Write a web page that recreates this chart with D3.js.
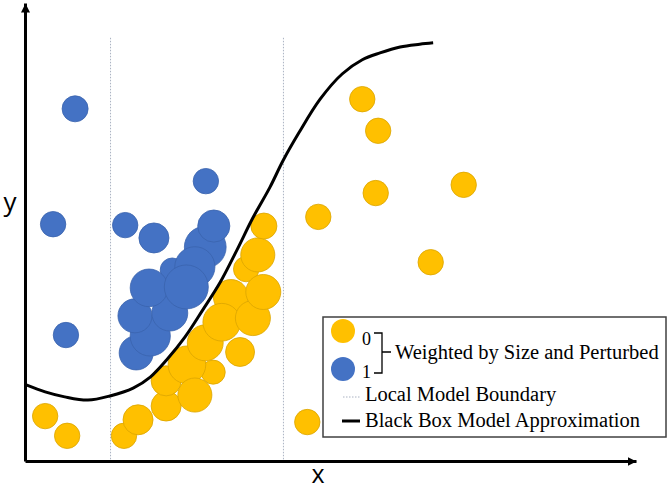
<!DOCTYPE html>
<html>
<head>
<meta charset="utf-8">
<script src="https://cdn.jsdelivr.net/npm/d3@7"></script>
<style>
  html, body { margin: 0; padding: 0; background: #fff; }
  svg { display: block; }
</style>
</head>
<body>
<div id="chart"></div>
<script>
// [x, y, weight] in drawing order
const class1Points = [
  [0.82, 7.69, 1.05], [0.46, 5.17, 1.0], [0.67, 2.75, 1.0], [2.96, 6.11, 1.0],
  [1.64, 5.15, 1.0], [1.82, 2.36, 1.8], [2.05, 2.73, 2.5], [1.80, 3.17, 1.8],
  [2.37, 3.23, 2.0], [2.41, 4.17, 0.9], [2.03, 3.78, 2.2], [2.95, 4.67, 2.7],
  [2.78, 4.24, 2.5], [2.64, 3.80, 3.0], [3.09, 5.13, 1.6], [2.11, 4.87, 1.4]
];
const class0Points = [
  [0.33, 0.98, 1.0], [0.69, 0.55, 1.0], [5.52, 7.90, 1.0], [5.78, 7.21, 1.0],
  [5.74, 5.85, 1.0], [7.18, 6.03, 1.0], [4.80, 5.33, 1.0], [6.64, 4.34, 1.0],
  [4.62, 0.85, 1.0],
  [1.62, 0.55, 1.0], [1.85, 0.90, 1.4], [2.31, 1.20, 1.4], [2.31, 1.75, 1.4],
  [3.08, 1.94, 0.9], [2.65, 2.10, 2.2], [2.78, 1.44, 1.8], [3.52, 2.38, 1.3],
  [2.95, 2.58, 2.0], [3.37, 3.58, 1.9], [3.22, 3.03, 2.2], [3.62, 4.19, 1.0],
  [3.81, 4.50, 1.8], [3.73, 3.12, 1.9], [3.90, 3.69, 1.9], [3.91, 5.13, 1.05]
];
const localBounds = [1.40, 4.23];
const boundTop = 9.24;
const blackBoxCurve = [
  [0.02, 1.66], [0.33, 1.51], [0.65, 1.40], [1.03, 1.33], [1.39, 1.42],
  [1.77, 1.59], [2.05, 1.83], [2.32, 2.21], [2.62, 2.71], [2.91, 3.30],
  [3.19, 3.89], [3.47, 4.61], [3.73, 5.31], [4.01, 5.98], [4.22, 6.55],
  [4.48, 7.16], [4.83, 7.90], [5.19, 8.45], [5.52, 8.76], [5.81, 8.91],
  [6.14, 9.04], [6.46, 9.10], [6.68, 9.13]
];
const classLabels = ["0", "1"];
const legendLabels = ["Weighted by Size and Perturbed", "Local Model Boundary", "Black Box Model Approximation"];
const axisLabels = ["x", "y"];

const width = 669, height = 491;
const orange = "#FFC000", blue = "#4472C4";

const x = d3.scaleLinear().domain([0, 10]).range([25, 636]);
const y = d3.scaleLinear().domain([0, 10]).range([461, 3]);
const r = d3.scaleSqrt().domain([0, 3]).range([0, 22]);

const svg = d3.select("#chart").append("svg")
  .attr("width", width)
  .attr("height", height);

svg.append("defs").append("marker")
  .attr("id", "arrow")
  .attr("markerUnits", "userSpaceOnUse")
  .attr("viewBox", "0 0 9 9")
  .attr("markerWidth", 9).attr("markerHeight", 9)
  .attr("refX", 9).attr("refY", 4.5)
  .attr("orient", "auto")
  .append("path")
  .attr("d", "M0,0L9,4.5L0,9Z")
  .attr("fill", "#000");

// local model boundaries
svg.append("g").selectAll("line")
  .data(localBounds)
  .join("line")
  .attr("x1", d => x(d)).attr("x2", d => x(d))
  .attr("y1", y(boundTop)).attr("y2", y(0))
  .attr("stroke", "#aab2c2")
  .attr("stroke-width", 1)
  .attr("stroke-dasharray", "1.5,1.5");

function drawClass(points, fill, stroke) {
  svg.append("g").selectAll("circle")
    .data(points)
    .join("circle")
    .attr("cx", d => x(d[0]))
    .attr("cy", d => y(d[1]))
    .attr("r", d => r(d[2]))
    .attr("fill", fill)
    .attr("stroke", stroke)
    .attr("stroke-width", 0.8);
}
drawClass(class1Points, blue, "#3a63ad");
drawClass(class0Points, orange, "#dba500");

// black box curve
svg.append("path")
  .datum(blackBoxCurve)
  .attr("fill", "none")
  .attr("stroke", "#000")
  .attr("stroke-width", 3)
  .attr("d", d3.line().x(d => x(d[0])).y(d => y(d[1])).curve(d3.curveCatmullRom.alpha(0.5)));

// axes as bare arrows
const gx = svg.append("g").attr("transform", `translate(0,${y(0)})`)
  .call(d3.axisBottom(x).tickValues([]).tickSizeOuter(0));
const gy = svg.append("g").attr("transform", `translate(${x(0)},0)`)
  .call(d3.axisLeft(y).tickValues([]).tickSizeOuter(0));
[gx, gy].forEach(g => g.select(".domain")
  .attr("stroke", "#000")
  .attr("stroke-width", 3)
  .attr("marker-end", "url(#arrow)"));

svg.append("text")
  .attr("x", 318).attr("y", 483)
  .attr("text-anchor", "middle")
  .style("font", "25px 'Open Sans', sans-serif")
  .text(axisLabels[0]);
svg.append("text")
  .attr("x", 10).attr("y", 211)
  .attr("text-anchor", "middle")
  .style("font", "26px 'Open Sans', sans-serif")
  .text(axisLabels[1]);

// legend
const lg = svg.append("g");
lg.append("rect")
  .attr("x", 323).attr("y", 317)
  .attr("width", 343).attr("height", 120)
  .attr("fill", "#fff")
  .attr("stroke", "#404040")
  .attr("stroke-width", 1.5);

lg.selectAll("circle")
  .data([orange, blue])
  .join("circle")
  .attr("cx", 343)
  .attr("cy", (d, i) => 331 + i * 38)
  .attr("r", 12)
  .attr("fill", d => d);

lg.selectAll("text.cls")
  .data(classLabels)
  .join("text")
  .attr("class", "cls")
  .attr("x", 362)
  .attr("y", (d, i) => 345 + i * 33)
  .style("font", "18px 'Liberation Serif', serif")
  .text(d => d);

lg.append("path")
  .attr("d", "M374,333H382V373H374M382,352H391")
  .attr("fill", "none")
  .attr("stroke", "#000")
  .attr("stroke-width", 1.3);

lg.append("line")
  .attr("x1", 343).attr("x2", 360)
  .attr("y1", 397).attr("y2", 397)
  .attr("stroke", "#aab2c2")
  .attr("stroke-dasharray", "1.5,1.5");
lg.append("line")
  .attr("x1", 342).attr("x2", 360)
  .attr("y1", 421).attr("y2", 421)
  .attr("stroke", "#000")
  .attr("stroke-width", 3);

lg.selectAll("text.lab")
  .data(legendLabels)
  .join("text")
  .attr("class", "lab")
  .attr("x", (d, i) => i === 0 ? 395 : 365)
  .attr("y", (d, i) => [359, 401, 427][i])
  .style("font", "20.5px 'Liberation Serif', serif")
  .text(d => d);
</script>
</body>
</html>
